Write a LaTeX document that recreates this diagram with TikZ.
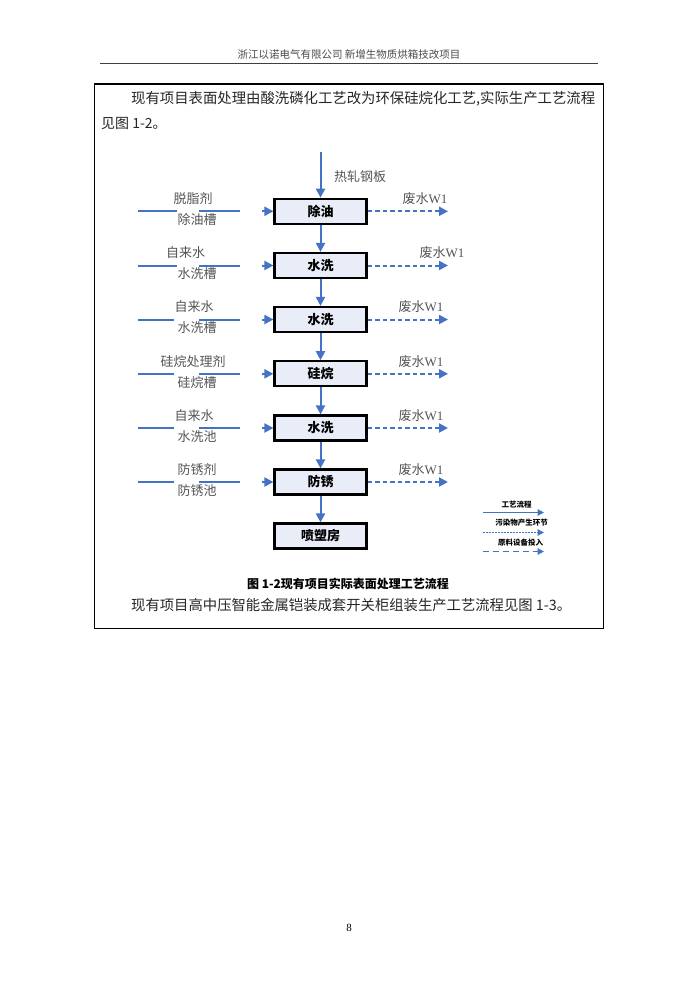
\documentclass[tikz,border=0pt]{standalone}
\usepackage{fontspec}
\setmainfont{Liberation Serif}
\newfontfamily\cjk{Noto Sans CJK SC}
\usetikzlibrary{arrows.meta}
\definecolor{ablue}{HTML}{4472C4}
\definecolor{boxfill}{HTML}{E9EDF7}
\definecolor{lblgray}{HTML}{555555}
\tikzset{
  procbox/.style={draw=black,line width=2.2pt,fill=boxfill,minimum width=92pt,minimum height=25pt,inner sep=0pt,font=\cjk\fontsize{13}{13}\selectfont\bfseries},
  flow/.style={ablue,line width=2pt,-{Triangle[length=9pt,width=9pt]}},
  waste/.style={ablue,line width=2pt,dash pattern=on 4.5pt off 3pt,-{Triangle[length=9pt,width=9pt]}},
  feed/.style={ablue,line width=2pt},
  lbl/.style={font=\cjk\fontsize{13}{13}\selectfont,text=lblgray,inner sep=0pt},
  wlbl/.style={font=\cjk\fontsize{13}{13}\selectfont,text=lblgray,inner sep=0pt},
  body/.style={font=\cjk\fontsize{14}{14}\selectfont,text=black!85,inner sep=0pt},
  leg/.style={font=\cjk\fontsize{7.5}{7.5}\selectfont\bfseries,inner sep=0pt},
}
\begin{document}
\begin{tikzpicture}[x=1pt,y=-1pt]
\useasboundingbox (0,0) rectangle (700,1000);
\fill[white] (0,0) rectangle (700,1000);
% header
\node[font=\cjk\fontsize{10.5}{10.5}\selectfont,text=black!70,inner sep=0pt] (hdr) at (349,55) {浙江以诺电气有限公司\ 新增生物质烘箱技改项目};
\draw[black!75,line width=1pt] (100,63.5) -- (598,63.5);
% frame
\draw[black,line width=1.6pt] (94.5,84.3) rectangle (603.3,628.3);
% paragraph
\node[body,anchor=west] (p1) at (131,99) {\resizebox{464pt}{!}{现有项目表面处理由酸洗磷化工艺改为环保硅烷化工艺,实际生产工艺流程}};
\node[body,anchor=west] (p2) at (101,123) {见图\ 1-2。};
% process boxes
\foreach \n/\t/\y in {b1/除油/211.3, b2/水洗/265.5, b3/水洗/319.5, b4/硅烷/373.8, b5/水洗/428, b6/防锈/482, b7/喷塑房/536}{
  \node[procbox] (\n) at (320.5,\y) {\t};
}
% top input
\coordinate (top) at (320.5,152);
\draw[flow] (top) -- (b1.north);
\node[lbl,anchor=west] (hr) at (334,177) {热轧钢板};
% vertical flow
\draw[flow] (b1) -- (b2);
\draw[flow] (b2) -- (b3);
\draw[flow] (b3) -- (b4);
\draw[flow] (b4) -- (b5);
\draw[flow] (b5) -- (b6);
\draw[flow] (b6) -- (b7);
% left feeds
\foreach \n/\ta/\xa/\tb/\g in {b1/脱脂剂/193/除油槽/177, b2/自来水/185.5/水洗槽/177, b3/自来水/194/水洗槽/174, b4/硅烷处理剂/193/硅烷槽/174, b5/自来水/194/水洗池/174, b6/防锈剂/197/防锈池/174}{
  \coordinate (l1\n) at (138,0 |- \n.center);
  \coordinate (l2\n) at (\g,0 |- \n.center);
  \coordinate (l3\n) at (199,0 |- \n.center);
  \coordinate (l4\n) at (240,0 |- \n.center);
  \coordinate (l5\n) at (262,0 |- \n.center);
  \draw[feed] (l1\n) -- (l2\n);
  \draw[feed] (l3\n) -- (l4\n);
  \draw[flow] (l5\n) -- (\n.west);
  \node[lbl] (ta\n) at ([yshift=12.5pt]\xa,0 |- \n.center) {\ta};
  \node[lbl] (tb\n) at ([yshift=-8.5pt]197,0 |- \n.center) {\tb};
}
% right waste
\foreach \n/\xw in {b1/425, b2/442, b3/421, b4/421, b5/421, b6/421}{
  \coordinate (w\n) at (448,0 |- \n.center);
  \draw[waste] (\n.east) -- (w\n);
  \node[wlbl] (wl\n) at ([yshift=12.5pt]\xw,0 |- \n.center) {废水\fontspec{Liberation Serif}W1};
}
% legend
\node[leg] (lg1) at (516.5,505) {工艺流程};
\coordinate (la1) at (483,512.5);
\coordinate (lb1) at (544,512.5);
\draw[ablue,line width=1.2pt,-{Triangle[length=6.5pt,width=6.5pt]}] (la1) -- (lb1);
\node[leg] (lg2) at (521.5,523) {污染物产生环节};
\coordinate (la2) at (483,532.5);
\coordinate (lb2) at (544,532.5);
\draw[ablue,line width=1.2pt,dash pattern=on 1.5pt off 1.5pt,-{Triangle[length=6.5pt,width=6.5pt]}] (la2) -- (lb2);
\node[leg] (lg3) at (520.5,543) {原料设备投入};
\coordinate (la3) at (483,551.5);
\coordinate (lb3) at (544,551.5);
\draw[ablue,line width=1.2pt,dash pattern=on 6pt off 4pt,-{Triangle[length=6.5pt,width=6.5pt]}] (la3) -- (lb3);
% caption
\node[font=\cjk\fontsize{12}{12}\selectfont\bfseries,inner sep=0pt] (cap) at (348,584) {图\ 1-2现有项目实际表面处理工艺流程};
\node[body,anchor=west] (p3) at (131,605) {\resizebox{440pt}{!}{现有项目高中压智能金属铠装成套开关柜组装生产工艺流程见图\ 1-3。}};
% page number
\node[font=\fontsize{11}{11}\selectfont,inner sep=0pt] (pg) at (349,928) {8};
\end{tikzpicture}
\end{document}
